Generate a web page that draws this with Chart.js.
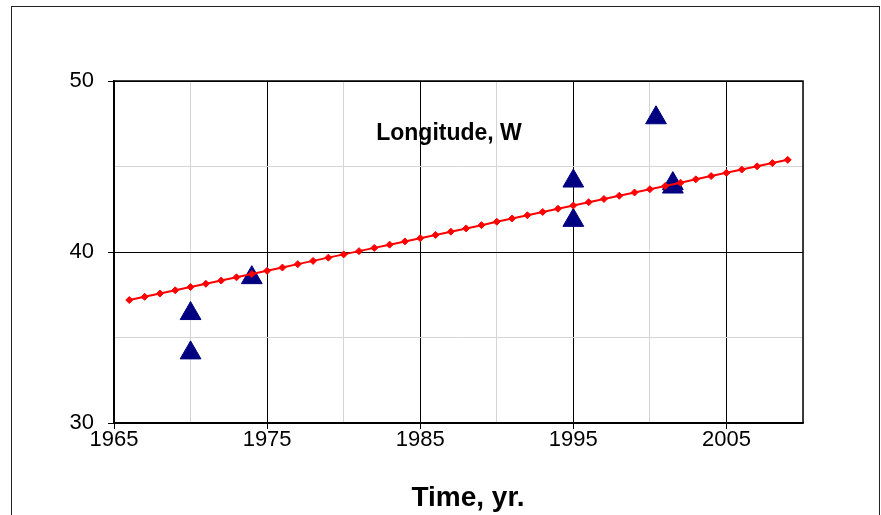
<!DOCTYPE html>
<html lang="en">
<head>
  <meta charset="UTF-8">
  <title>Longitude, W</title>
  <script src="https://cdn.jsdelivr.net/npm/chart.js"></script>
  <style>
    body {
      margin: 0;
      padding: 0;
      background-color: #fff;
    }
    canvas {
      display: block;
    }
  </style>
</head>
<body>
  <canvas id="grafica" width="881" height="515"></canvas>

  <script>
    // trend line, one point per year
    var trendYears = [1966, 1967, 1968, 1969, 1970, 1971, 1972, 1973, 1974, 1975,
      1976, 1977, 1978, 1979, 1980, 1981, 1982, 1983, 1984, 1985,
      1986, 1987, 1988, 1989, 1990, 1991, 1992, 1993, 1994, 1995,
      1996, 1997, 1998, 1999, 2000, 2001, 2002, 2003, 2004, 2005,
      2006, 2007, 2008, 2009];
    var trendLon = [37.19, 37.38, 37.57, 37.76, 37.95, 38.14, 38.33, 38.52, 38.71, 38.90,
      39.09, 39.29, 39.48, 39.67, 39.86, 40.05, 40.24, 40.43, 40.62, 40.81,
      41.00, 41.19, 41.38, 41.57, 41.77, 41.96, 42.15, 42.34, 42.53, 42.72,
      42.91, 43.10, 43.29, 43.48, 43.67, 43.86, 44.05, 44.25, 44.44, 44.63,
      44.82, 45.01, 45.20, 45.39];

    // observed positions
    var obsYears = [1970, 1970, 1974, 1995, 1995, 2000.4, 2001.5, 2001.5];
    var obsLon = [36.4, 34.1, 38.5, 44.15, 41.85, 47.85, 44.0, 43.8];

    var xTicks = [1965, 1975, 1985, 1995, 2005];
    var yTicks = [30, 40, 50];

    var chartTitle = 'Longitude, W';
    var xTitle = 'Time, yr.';

    function toPoints(xs, ys) {
      return xs.map(function (x, i) { return { x: x, y: ys[i] }; });
    }

    var extras = {
      id: 'extras',
      afterDraw: function (chart) {
        var ctx = chart.ctx;
        var a = chart.chartArea;
        ctx.save();
        // plot frame
        ctx.strokeStyle = '#000';
        ctx.lineWidth = 1.5;
        ctx.strokeRect(a.left, a.top, a.right - a.left, a.bottom - a.top);
        // outer frame
        ctx.lineWidth = 1;
        ctx.strokeStyle = '#222';
        ctx.strokeRect(11.5, 6.5, 868, 600);
        // texts
        ctx.fillStyle = '#000';
        ctx.textAlign = 'center';
        ctx.textBaseline = 'alphabetic';
        ctx.font = 'bold 23px "Liberation Sans", Arial, sans-serif';
        ctx.fillText(chartTitle, 449, 140);
        ctx.font = 'bold 28px "Liberation Sans", Arial, sans-serif';
        ctx.fillText(xTitle, 468, 506);
        ctx.restore();
      }
    };

    var ctx = document.getElementById('grafica').getContext('2d');
    var myChart = new Chart(ctx, {
      type: 'scatter',
      data: {
        datasets: [{
          label: 'trend',
          data: toPoints(trendYears, trendLon),
          showLine: true,
          borderColor: '#ff0000',
          backgroundColor: '#ff0000',
          borderWidth: 2,
          pointStyle: 'rectRot',
          pointRadius: 3.5,
          pointBorderWidth: 1
        }, {
          label: 'observed',
          data: toPoints(obsYears, obsLon),
          showLine: false,
          borderColor: '#000080',
          backgroundColor: '#000080',
          pointStyle: 'triangle',
          pointRadius: 12,
          pointBorderWidth: 1
        }]
      },
      options: {
        responsive: false,
        animation: false,
        devicePixelRatio: 1,
        layout: {
          padding: { left: 0, top: 81, right: 78, bottom: 0 }
        },
        plugins: {
          legend: { display: false },
          tooltip: { enabled: false }
        },
        scales: {
          x: {
            type: 'linear',
            min: 1965,
            max: 2010,
            afterFit: function (scale) { scale.height = 92; },
            afterBuildTicks: function (scale) {
              var t = [];
              for (var v = 1965; v <= 2010; v += 5) t.push({ value: v });
              scale.ticks = t;
            },
            ticks: {
              color: '#000',
              padding: -2,
              maxRotation: 0,
              autoSkip: false,
              font: { family: '"Liberation Sans", Arial, sans-serif', size: 22 },
              callback: function (v) { return xTicks.indexOf(v) >= 0 ? String(v) : ''; }
            },
            grid: {
              tickLength: 6,
              lineWidth: 1,
              color: function (c) { return xTicks.indexOf(c.tick.value) >= 0 ? '#000' : '#d4d4d4'; },
              tickColor: function (c) { return xTicks.indexOf(c.tick.value) >= 0 ? '#000' : 'rgba(0,0,0,0)'; }
            },
            border: { color: '#000', width: 1.5 }
          },
          y: {
            min: 30,
            max: 50,
            afterFit: function (scale) { scale.width = 114; },
            ticks: {
              stepSize: 5,
              color: '#000',
              padding: 14,
              font: { family: '"Liberation Sans", Arial, sans-serif', size: 22 },
              callback: function (v) { return yTicks.indexOf(v) >= 0 ? String(v) : ''; }
            },
            grid: {
              tickLength: 6,
              lineWidth: 1,
              color: function (c) { return yTicks.indexOf(c.tick.value) >= 0 ? '#000' : '#d4d4d4'; },
              tickColor: function (c) { return yTicks.indexOf(c.tick.value) >= 0 ? '#000' : 'rgba(0,0,0,0)'; }
            },
            border: { color: '#000', width: 1.5 }
          }
        }
      },
      plugins: [extras]
    });
  </script>
</body>
</html>
